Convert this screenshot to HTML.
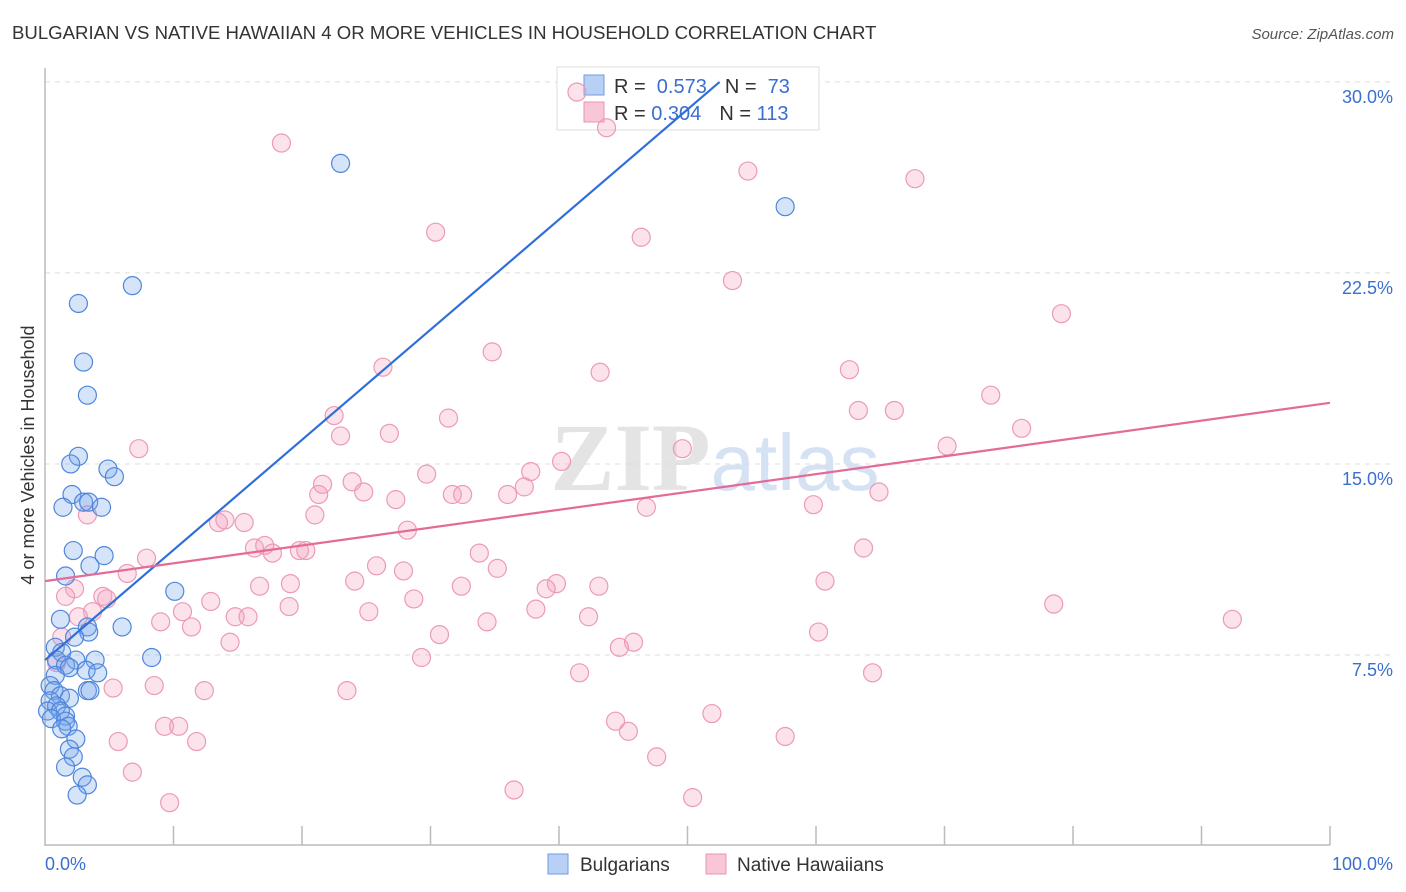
<!DOCTYPE html>
<html><head><meta charset="utf-8"><style>
body{margin:0;background:#fff;font-family:"Liberation Sans",sans-serif;}
svg{display:block}
</style></head><body>
<svg width="1406" height="892" xmlns="http://www.w3.org/2000/svg" id="chart">
<text x="12" y="39" font-size="18.6" fill="#333" font-family="Liberation Sans">BULGARIAN VS NATIVE HAWAIIAN 4 OR MORE VEHICLES IN HOUSEHOLD CORRELATION CHART</text>
<text x="1394" y="39" font-size="15" fill="#555" text-anchor="end" font-style="italic">Source: ZipAtlas.com</text>
<text x="715" y="490" font-size="96" fill="#e4e4e4" text-anchor="middle" font-family="Liberation Serif" font-weight="bold">ZIP<tspan fill="#d5e2f3" font-family="Liberation Sans" font-weight="normal" font-size="80">atlas</tspan></text>
<g id="grid"></g>
<line x1="45" y1="68" x2="45" y2="846" stroke="#bbb" stroke-width="1.5"/>
<line x1="45" y1="845" x2="1330" y2="845" stroke="#bbb" stroke-width="1.5"/>
<text transform="translate(34,455) rotate(-90)" font-size="18" fill="#333" text-anchor="middle">4 or more Vehicles in Household</text>
<text x="45" y="870" font-size="18" fill="#3a6fd0">0.0%</text>
<text x="1393" y="870" font-size="18" fill="#3a6fd0" text-anchor="end">100.0%</text>
<g>
<rect x="557" y="67" width="262" height="63" fill="#fff" stroke="#ddd"/>
<rect x="584" y="75" width="20" height="20" fill="#b8d0f5" stroke="#6f9be0"/>
<rect x="584" y="102" width="20" height="20" fill="#f9c6d6" stroke="#e895b0"/>
<text x="614" y="93" font-size="20" fill="#333">R = <tspan fill="#3a6fd0">&#160;0.573</tspan><tspan dx="18">N = </tspan><tspan fill="#3a6fd0">&#160;73</tspan></text>
<text x="614" y="120" font-size="20" fill="#333">R = <tspan fill="#3a6fd0">0.304</tspan><tspan dx="18">N = </tspan><tspan fill="#3a6fd0">113</tspan></text>
</g>
<g id="points"></g>
<g id="lines"></g>
<g><rect x="548" y="854" width="20" height="20" fill="#b8d0f5" stroke="#6f9be0"/><text x="580" y="871" font-size="19" fill="#333">Bulgarians</text></g>
<g><rect x="706" y="854" width="20" height="20" fill="#f9c6d6" stroke="#e895b0"/><text x="737" y="871" font-size="19" fill="#333">Native Hawaiians</text></g>
</svg>
<script>
const yTicks=[7.5,15,22.5,30];
const yTickLabels=["7.5%","15.0%","22.5%","30.0%"];
const xTicks=[10,20,30,40,50,60,70,80,90,100];
const blueX=[23.0,57.6,6.8,2.6,3.0,3.3,2.6,2.0,4.9,5.4,2.1,3.0,3.4,1.4,4.4,2.2,4.6,3.5,1.6,10.1,1.2,3.3,3.4,6.0,2.3,0.8,1.3,8.3,0.9,2.4,3.9,1.6,1.9,3.2,4.1,0.8,0.4,0.7,3.3,3.5,1.2,1.9,0.4,0.9,0.2,1.2,1.6,0.5,1.6,1.8,1.3,2.4,1.9,2.2,1.6,2.9,3.3,2.5];
const blueY=[26.8,25.1,22.0,21.3,19.0,17.7,15.3,15.0,14.8,14.5,13.8,13.5,13.5,13.3,13.3,11.6,11.4,11.0,10.6,10.0,8.9,8.6,8.4,8.6,8.2,7.8,7.6,7.4,7.3,7.3,7.3,7.1,7.0,6.9,6.8,6.7,6.3,6.1,6.1,6.1,5.9,5.8,5.7,5.5,5.3,5.3,5.1,5.0,4.9,4.7,4.6,4.2,3.8,3.5,3.1,2.7,2.4,2.0];
const pinkX=[41.4,43.7,18.4,54.7,67.7,30.4,46.4,53.5,79.1,34.8,26.3,43.2,62.6,73.6,63.3,66.1,22.5,31.4,76.0,23.0,26.8,7.3,49.6,70.2,40.2,29.7,37.8,21.6,23.9,21.3,24.8,37.3,31.7,32.5,36.0,27.3,64.9,46.8,59.8,3.3,21.0,13.5,14.0,15.5,28.2,16.3,17.1,17.7,19.8,20.3,63.7,33.8,7.9,25.8,35.2,27.9,6.4,60.7,24.1,16.7,19.1,32.4,39.8,39.0,43.1,2.3,1.6,4.5,4.8,28.7,12.9,19.0,10.7,25.2,38.2,78.5,3.7,2.6,14.8,15.8,42.3,92.4,34.4,9.0,11.4,60.2,30.7,1.3,45.8,14.4,44.7,29.3,0.9,41.6,64.4,8.5,5.3,12.4,23.5,51.9,44.4,9.3,10.4,45.4,57.6,5.7,11.8,47.6,6.8,36.5,50.4,9.7];
const pinkY=[29.6,28.2,27.6,26.5,26.2,24.1,23.9,22.2,20.9,19.4,18.8,18.6,18.7,17.7,17.1,17.1,16.9,16.8,16.4,16.1,16.2,15.6,15.6,15.7,15.1,14.6,14.7,14.2,14.3,13.8,13.9,14.1,13.8,13.8,13.8,13.6,13.9,13.3,13.4,13.0,13.0,12.7,12.8,12.7,12.4,11.7,11.8,11.5,11.6,11.6,11.7,11.5,11.3,11.0,10.9,10.8,10.7,10.4,10.4,10.2,10.3,10.2,10.3,10.1,10.2,10.1,9.8,9.8,9.7,9.7,9.6,9.4,9.2,9.2,9.3,9.5,9.2,9.0,9.0,9.0,9.0,8.9,8.8,8.8,8.6,8.4,8.3,8.2,8.0,8.0,7.8,7.4,7.2,6.8,6.8,6.3,6.2,6.1,6.1,5.2,4.9,4.7,4.7,4.5,4.3,4.1,4.1,3.5,2.9,2.2,1.9,1.7];
const blueLine=[[0,7.3],[52.5,30]];
const pinkLine=[[0,10.4],[100,17.4]];
const NS="http://www.w3.org/2000/svg";
const sx=v=>45+v*12.85, sy=v=>846-v*25.47;
function mk(t,a,p){const e=document.createElementNS(NS,t);for(const k in a)e.setAttribute(k,a[k]);p.appendChild(e);return e;}
const grid=document.getElementById('grid');
yTicks.forEach((t,i)=>{
 const l=mk('line',{x1:45,x2:1393,y1:sy(t),y2:sy(t),stroke:'#ddd','stroke-dasharray':'5,5'},grid);
 
 
 const tx=mk('text',{x:1393,y:sy(t)+21,'font-size':18,fill:'#3a6fd0','text-anchor':'end'},grid);
 tx.textContent=yTickLabels[i];
 
 
});
xTicks.forEach(t=>{
 const l=mk('line',{x1:sx(t),x2:sx(t),y1:826,y2:845,stroke:'#bbb','stroke-width':1.5},grid);
 
 
});
const pts=document.getElementById('points');
pinkX.forEach((x,i)=>{
 const c=mk('circle',{cx:sx(x),cy:sy(pinkY[i]),r:9,fill:'rgba(244,160,190,0.3)',stroke:'#ec9ab6','stroke-width':1.2},pts);
 
 
});
blueX.forEach((x,i)=>{
 const c=mk('circle',{cx:sx(x),cy:sy(blueY[i]),r:9,fill:'rgba(120,165,235,0.3)',stroke:'#4f86dc','stroke-width':1.2},pts);
 
 
});
const ln=document.getElementById('lines');
const b=mk('line',{x1:sx(blueLine[0][0]),y1:sy(blueLine[0][1]),x2:sx(blueLine[1][0]),y2:sy(blueLine[1][1]),stroke:'#2f6fd8','stroke-width':2.2},ln);


const p=mk('line',{x1:sx(pinkLine[0][0]),y1:sy(pinkLine[0][1]),x2:sx(pinkLine[1][0]),y2:sy(pinkLine[1][1]),stroke:'#e46a98','stroke-width':2.2},ln);


</script>
</body></html>
